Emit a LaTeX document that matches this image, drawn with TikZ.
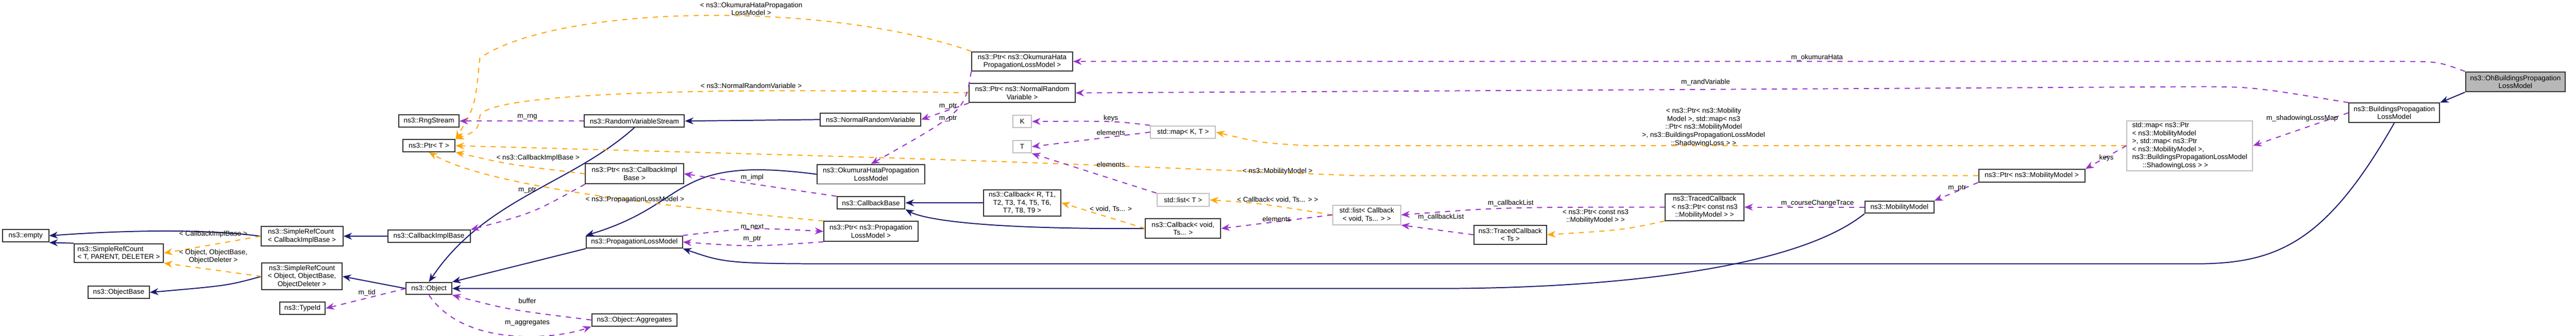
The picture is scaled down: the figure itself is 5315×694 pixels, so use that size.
\documentclass[tikz,border=0pt]{standalone}
\usepackage{fontspec}
\setmainfont{Liberation Sans}
\usepackage{tikz}
\usetikzlibrary{arrows.meta}
\usetikzlibrary{positioning}
\definecolor{navy}{RGB}{25,25,112}
\definecolor{usecol}{RGB}{153,50,204}
\definecolor{tplcol}{RGB}{255,165,0}
\begin{document}
\begin{tikzpicture}[x=0.01cm,y=-0.01cm,
  every node/.style={font=\fontsize{4.1}{4.7}\selectfont,inner sep=1pt},
  cls/.style={draw=black!80,semithick,align=center,fill=white},
  ext/.style={draw=black!25,semithick,align=center,fill=white},
  lbl/.style={align=center}]
\tikzstyle{inh}=[navy,semithick,-{Stealth[length=5pt,width=4pt]}];
\tikzstyle{use}=[usecol,semithick,dashed,-{Stealth[length=5pt,width=4pt]}];
\tikzstyle{tpl}=[tplcol,semithick,dashed,-{Stealth[length=5pt,width=4pt]}];
\useasboundingbox (0,0) rectangle (5315,694);

% classes
\node[cls,minimum width=0.95cm,minimum height=0.26cm] (empty) at (53,487) {ns3::empty};
\node[cls,minimum width=1.84cm,minimum height=0.39cm,align=left] (srcT) at (245,523) {ns3::SimpleRefCount\\< T, PARENT, DELETER >};
\node[cls,minimum width=1.26cm,minimum height=0.25cm] (objbase) at (245,604) {ns3::ObjectBase};
\node[cls,minimum width=1.69cm,minimum height=0.40cm,align=left] (srcCB) at (623,488) {ns3::SimpleRefCount\\< CallbackImplBase >};
\node[cls,minimum width=1.65cm,minimum height=0.55cm] (srcObj) at (623,571) {ns3::SimpleRefCount\\< Object, ObjectBase,\\ObjectDeleter >};
\node[cls,minimum width=0.94cm,minimum height=0.26cm] (typeid) at (624,637) {ns3::TypeId};
\node[cls,minimum width=1.70cm,minimum height=0.25cm] (cbimpl) at (885,488) {ns3::CallbackImplBase};
\node[cls,minimum width=0.94cm,minimum height=0.25cm] (object) at (885,596) {ns3::Object};
\node[cls,minimum width=1.24cm,minimum height=0.25cm] (rng) at (885,250) {ns3::RngStream};
\node[cls,minimum width=1.08cm,minimum height=0.25cm] (ptrT) at (885,301) {ns3::Ptr< T >};
\node[cls,minimum width=2.06cm,minimum height=0.25cm] (rvs) at (1309,250) {ns3::RandomVariableStream};
\node[cls,minimum width=2.02cm,minimum height=0.41cm] (ptrCB) at (1309,359) {ns3::Ptr< ns3::CallbackImpl\\Base >};
\node[cls,minimum width=1.98cm,minimum height=0.25cm] (plm) at (1309,500) {ns3::PropagationLossModel};
\node[cls,minimum width=1.76cm,minimum height=0.25cm] (aggr) at (1309,661) {ns3::Object::Aggregates};
\node[cls,minimum width=2.08cm,minimum height=0.40cm] (ptrOH) at (2109,127) {ns3::Ptr< ns3::OkumuraHata\\PropagationLossModel >};
\node[cls,minimum width=2.18cm,minimum height=0.40cm] (ptrNRV) at (2109,192) {ns3::Ptr< ns3::NormalRandom\\Variable >};
\node[cls,minimum width=2.07cm,minimum height=0.26cm] (nrv) at (1796,247) {ns3::NormalRandomVariable};
\node[cls,minimum width=2.22cm,minimum height=0.40cm] (oh) at (1797,360) {ns3::OkumuraHataPropagation\\LossModel};
\node[cls,minimum width=1.40cm,minimum height=0.25cm] (cbbase) at (1797,419) {ns3::CallbackBase};
\node[cls,minimum width=1.94cm,minimum height=0.41cm] (ptrPLM) at (1797,478) {ns3::Ptr< ns3::Propagation\\LossModel >};
\node[ext,minimum width=0.38cm,minimum height=0.25cm] (K) at (2109,251) {K};
\node[ext,minimum width=0.38cm,minimum height=0.26cm] (T) at (2109,303) {T};
\node[ext,minimum width=1.34cm,minimum height=0.26cm] (mapKT) at (2441,273) {std::map< K, T >};
\node[cls,minimum width=1.60cm,minimum height=0.54cm] (cbR) at (2109,419) {ns3::Callback< R, T1,\\T2, T3, T4, T5, T6,\\T7, T8, T9 >};
\node[ext,minimum width=1.08cm,minimum height=0.26cm] (listT) at (2441,413) {std::list< T >};
\node[cls,minimum width=1.55cm,minimum height=0.40cm] (cbVoid) at (2441,472) {ns3::Callback< void,\\Ts... >};
\node[ext,minimum width=1.40cm,minimum height=0.40cm] (listCB) at (2820,444) {std::list< Callback\\< void, Ts... > >};
\node[cls,minimum width=1.50cm,minimum height=0.39cm] (tcTs) at (3116,485) {ns3::TracedCallback\\< Ts >};
\node[cls,minimum width=1.62cm,minimum height=0.55cm] (tcMM) at (3517,428) {ns3::TracedCallback\\< ns3::Ptr< const ns3\\::MobilityModel > >};
\node[cls,minimum width=1.42cm,minimum height=0.25cm] (mm) at (3919,428) {ns3::MobilityModel};
\node[cls,minimum width=2.19cm,minimum height=0.26cm] (ptrMM) at (4192,363) {ns3::Ptr< ns3::MobilityModel >};
\node[ext,minimum width=2.59cm,minimum height=0.99cm,align=left] (mapBig) at (4518,301) {std::map< ns3::Ptr\\< ns3::MobilityModel\\ >, std::map< ns3::Ptr\\< ns3::MobilityModel >,\\ ns3::BuildingsPropagationLossModel\\ \hspace{1.5em}::ShadowingLoss > >};
\node[cls,minimum width=1.87cm,minimum height=0.40cm] (bplm) at (4940,233) {ns3::BuildingsPropagation\\LossModel};
\node[cls,fill=black!28,minimum width=2.06cm,minimum height=0.41cm] (ohb) at (5190,169) {ns3::OhBuildingsPropagation\\LossModel};

% inheritance
\draw[inh] (srcCB.west) .. controls (420,472) and (250,476) .. (empty.east);
\draw[inh] (srcT.north west) -- (empty.south east);
\draw[inh] (srcObj.west) .. controls (470,590) .. (objbase.east);
\draw[inh] (cbimpl.west) -- (srcCB.east);
\draw[inh] (object.west) -- (srcObj.east);
\draw[inh] (rvs.south) .. controls (1180,380) and (1000,410) .. (object.north);
\draw[inh] (plm.south west) -- (object.north east);
\draw[inh] (mm.south west) .. controls (3700,560) and (3300,596) .. (2970,596) -- (object.east);
\draw[inh] (nrv.west) -- (rvs.east);
\draw[inh] (oh.west) .. controls (1380,320) and (1430,420) .. (plm.north west);
\draw[inh] (cbR.west) -- (cbbase.east);
\draw[inh] (cbVoid.west) .. controls (2000,474) and (1900,450) .. (cbbase.south east);
\draw[inh] (bplm.south) .. controls (4800,500) and (4700,545) .. (4530,545) -- (1800,545) .. controls (1500,545) .. (plm.south east);
\draw[inh] (ohb.south west) -- (bplm.north east);

% template instances
\draw[tpl] (srcCB.west) -- (srcT.east);
\draw[tpl] (srcObj.west) -- (srcT.south east);
\draw[tpl] (ptrOH.north west) .. controls (1700,0) and (1150,10) .. (990,120) .. controls (980,220) .. (ptrT.north east);
\draw[tpl] (ptrNRV.west) .. controls (1500,180) and (1000,190) .. (990,240) .. controls (985,270) .. (ptrT.north east);
\draw[tpl] (ptrCB.west) .. controls (1050,340) .. (ptrT.south east);
\draw[tpl] (ptrPLM.north west) .. controls (1300,420) and (1000,380) .. (ptrT.south);
\draw[tpl] (ptrMM.west) -- (2800,363) .. controls (2000,330) .. (ptrT.east);
\draw[tpl] (mapBig.west) -- (2700,301) .. controls (2600,295) .. (mapKT.east);
\draw[tpl] (listCB.west) .. controls (2600,420) .. (listT.east);
\draw[tpl] (cbVoid.west) -- (cbR.east);
\draw[tpl] (tcMM.south west) .. controls (3350,475) .. (tcTs.east);

% members
\draw[use] (rvs.west) -- (rng.east);
\draw[use] (ptrCB.south west) .. controls (1100,440) .. (cbimpl.north east);
\draw[use] (cbbase.north west) -- (ptrCB.east);
\draw[use] (plm.north east) .. controls (1550,470) .. (ptrPLM.west);
\draw[use] (ptrPLM.south west) .. controls (1550,510) .. (plm.east);
\draw[use] (object.west) -- (typeid.east);
\draw[use] (aggr.west) .. controls (1050,640) .. (object.south east);
\draw[use] (object.south) .. controls (960,720) and (1150,700) .. (aggr.south west);
\draw[use] (ptrNRV.south west) -- (nrv.east);
\draw[use] (ptrOH.south west) .. controls (1990,230) .. (oh.north);
\draw[use] (mapKT.north west) .. controls (2300,250) .. (K.east);
\draw[use] (mapKT.west) -- (T.east);
\draw[use] (listT.north west) -- (T.south east);
\draw[use] (listCB.west) -- (cbVoid.east);
\draw[use] (tcMM.west) .. controls (3100,428) .. (listCB.east);
\draw[use] (tcTs.west) -- (listCB.south east);
\draw[use] (mm.west) -- (tcMM.east);
\draw[use] (ptrMM.south west) -- (mm.north east);
\draw[use] (mapBig.west) -- (ptrMM.north east);
\draw[use] (bplm.west) -- (mapBig.east);
\draw[use] (ohb.north west) .. controls (5030,127) .. (4950,127) -- (ptrOH.east);
\draw[use] (bplm.north west) .. controls (4650,180) .. (4550,179) -- (ptrNRV.east);

% labels
\node[lbl] (l1) at (440,484) {< CallbackImplBase >};
\node[lbl] (l2) at (440,530) {< Object, ObjectBase,\\ObjectDeleter >};
\node[lbl] (l3) at (1550,18) {< ns3::OkumuraHataPropagation\\LossModel >};
\node[lbl] (l4) at (1550,177) {< ns3::NormalRandomVariable >};
\node[lbl] (l5) at (1110,326) {< ns3::CallbackImplBase >};
\node[lbl] (l6) at (1310,412) {< ns3::PropagationLossModel >};
\node[lbl] (l7) at (2636,354) {< ns3::MobilityModel >};
\node[lbl] (l8) at (3515,263) {< ns3::Ptr< ns3::Mobility\\Model >, std::map< ns3\\::Ptr< ns3::MobilityModel\\ >, ns3::BuildingsPropagationLossModel\\::ShadowingLoss > >};
\node[lbl] (l9) at (2636,413) {< Callback< void, Ts... > >};
\node[lbl] (l10) at (2292,432) {< void, Ts... >};
\node[lbl] (l11) at (3292,447) {< ns3::Ptr< const ns3\\::MobilityModel > >};
\node[lbl] (l12) at (1088,242) {m\_rng};
\node[lbl] (l13) at (1088,393) {m\_ptr};
\node[lbl] (l14) at (1552,367) {m\_impl};
\node[lbl] (l15) at (1552,469) {m\_next};
\node[lbl] (l16) at (1552,494) {m\_ptr};
\node[lbl] (l17) at (757,605) {m\_tid};
\node[lbl] (l18) at (1088,621) {buffer};
\node[lbl] (l19) at (1088,667) {m\_aggregates};
\node[lbl] (l20) at (1956,220) {m\_ptr};
\node[lbl] (l21) at (1956,245) {m\_ptr};
\node[lbl] (l22) at (2292,244) {keys};
\node[lbl] (l23) at (2292,274) {elements};
\node[lbl] (l24) at (2292,340) {elements};
\node[lbl] (l25) at (2634,452) {elements};
\node[lbl] (l26) at (3117,420) {m\_callbackList};
\node[lbl] (l27) at (2973,448) {m\_callbackList};
\node[lbl] (l28) at (3750,420) {m\_courseChangeTrace};
\node[lbl] (l29) at (4038,389) {m\_ptr};
\node[lbl] (l30) at (4346,326) {keys};
\node[lbl] (l31) at (4750,245) {m\_shadowingLossMap};
\node[lbl] (l32) at (3749,119) {m\_okumuraHata};
\node[lbl] (l33) at (3519,170) {m\_randVariable};
\end{tikzpicture}
\end{document}
